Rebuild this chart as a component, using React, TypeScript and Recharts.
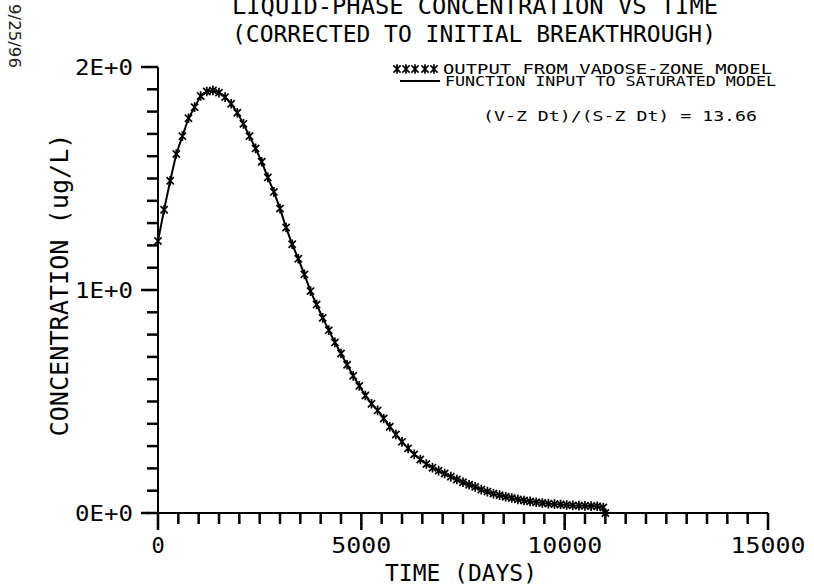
import React from "react";
import { LineChart, Line, XAxis, YAxis } from "recharts";

// Elapsed time since initial breakthrough (days)
const timeDays = [
  0, 150, 300, 450, 600, 750, 900, 1050, 1200, 1350,
  1500, 1650, 1800, 1950, 2100, 2250, 2400, 2550, 2700, 2850,
  3000, 3150, 3300, 3450, 3600, 3750, 3900, 4050, 4200, 4350,
  4500, 4650, 4800, 4950, 5100, 5250, 5400, 5550, 5700, 5850,
  6000, 6150, 6300, 6450, 6600, 6750, 6900, 7050, 7200, 7350,
  7500, 7650, 7800, 7950, 8100, 8250, 8400, 8550, 8700, 8850,
  9000, 9150, 9300, 9450, 9600, 9750, 9900, 10050, 10200, 10350,
  10500, 10650, 10800, 10950, 11000,
];

// Liquid-phase concentration (ug/L)
const concentration = [
  1.22, 1.36, 1.49, 1.61, 1.69, 1.77, 1.82, 1.87, 1.89, 1.895,
  1.885, 1.865, 1.835, 1.795, 1.745, 1.69, 1.635, 1.575, 1.505, 1.44,
  1.365, 1.28, 1.205, 1.14, 1.07, 0.995, 0.935, 0.875, 0.82, 0.765,
  0.715, 0.665, 0.615, 0.57, 0.527, 0.49, 0.46, 0.424, 0.387, 0.352,
  0.319, 0.29, 0.263, 0.24, 0.22, 0.203, 0.19, 0.177, 0.163, 0.15,
  0.138, 0.127, 0.117, 0.105, 0.096, 0.087, 0.08, 0.073, 0.067, 0.061,
  0.056, 0.052, 0.048, 0.045, 0.042, 0.04, 0.038, 0.036, 0.034, 0.033,
  0.032, 0.031, 0.03, 0.025, 0,
];

const xMajorTicks = [0, 5000, 10000, 15000];
const xTickStep = 500;
const yMajorTicks = [0, 1, 2];
const yTickStep = 0.1;

const titleLines = [
  "LIQUID-PHASE CONCENTRATION VS TIME",
  "(CORRECTED TO INITIAL BREAKTHROUGH)",
];
const legendLabels = [
  "OUTPUT FROM VADOSE-ZONE MODEL",
  "FUNCTION INPUT TO SATURATED MODEL",
];
const ratioNote = "(V-Z Dt)/(S-Z Dt) = 13.66";
const xAxisTitle = "TIME (DAYS)";
const yAxisTitle = "CONCENTRATION (ug/L)";
const plotDate = "9/25/96";

const rows = timeDays.map((t, i) => ({ t, c: concentration[i] }));

const xTicks: number[] = [];
for (let k = 0; k <= 30; k++) xTicks.push(k * xTickStep);
const yTicks: number[] = [];
for (let k = 0; k <= 20; k++) yTicks.push(Math.round(k * yTickStep * 10) / 10);

const FONT = "'DejaVu Sans Mono', monospace";
const INK = "#000";
const MINOR = 11; // tick length drawn by the axes
const MAJOR_EXTRA = 6; // extra length on labelled ticks
const TICK_W = 2.5;

const Asterisk = (props: any) => {
  const { cx, cy } = props;
  if (cx == null || cy == null) return null;
  const a = 3.6;
  const h = 4.8;
  return (
    <path
      d={`M${cx - a},${cy - a}L${cx + a},${cy + a}M${cx + a},${cy - a}L${cx - a},${cy + a}M${cx},${cy - h}L${cx},${cy + h}`}
      stroke={INK}
      strokeWidth={1.7}
      fill="none"
    />
  );
};

// x, y arrive at the outer end of the axis tick line
const XTick = (props: any) => {
  const { x, y, payload } = props;
  const v = Number(payload.value);
  if (!xMajorTicks.includes(v)) return <g />;
  const label = String(v);
  return (
    <g>
      <line x1={x} x2={x} y1={y - 1} y2={y + MAJOR_EXTRA} stroke={INK} strokeWidth={TICK_W} />
      <text
        x={x}
        y={y + 29}
        textAnchor="middle"
        fontFamily={FONT}
        fontSize={22}
        fill={INK}
        textLength={label.length > 1 ? label.length * 15 : undefined}
        lengthAdjust="spacingAndGlyphs"
      >
        {label}
      </text>
    </g>
  );
};

const YTick = (props: any) => {
  const { x, y, payload } = props;
  const v = Number(payload.value);
  if (!yMajorTicks.some((m) => Math.abs(m - v) < 1e-6)) return <g />;
  const label = `${Math.round(v)}E+0`;
  return (
    <g>
      <line x1={x + 1} x2={x - MAJOR_EXTRA} y1={y} y2={y} stroke={INK} strokeWidth={TICK_W} />
      <text
        x={x - 14}
        y={y + 8}
        textAnchor="end"
        fontFamily={FONT}
        fontSize={22}
        fill={INK}
        textLength={58}
        lengthAdjust="spacingAndGlyphs"
      >
        {label}
      </text>
    </g>
  );
};

const Overlay = () => (
  <svg
    width={814}
    height={586}
    style={{ position: "absolute", left: 0, top: 0, pointerEvents: "none" }}
  >
    {/* plot date, written sideways */}
    <text
      transform="translate(9,4) rotate(90)"
      fontFamily="'DejaVu Sans', sans-serif"
      fontSize={16}
      fill="#222"
      textLength={64}
      lengthAdjust="spacingAndGlyphs"
    >
      {plotDate}
    </text>

    {/* title */}
    <text x={232} y={14} fontFamily={FONT} fontSize={23} fill={INK} textLength={486} lengthAdjust="spacingAndGlyphs">
      {titleLines[0]}
    </text>
    <text x={232} y={42} fontFamily={FONT} fontSize={23} fill={INK} textLength={484} lengthAdjust="spacingAndGlyphs">
      {titleLines[1]}
    </text>

    {/* legend */}
    {[397, 406, 415, 425, 434].map((x) => (
      <Asterisk key={x} cx={x} cy={69} />
    ))}
    <text x={443} y={74} fontFamily={FONT} fontSize={13.5} fill={INK} textLength={329} lengthAdjust="spacingAndGlyphs">
      {legendLabels[0]}
    </text>
    <line x1={400} x2={440} y1={81} y2={81} stroke={INK} strokeWidth={1.8} />
    <text x={445} y={86} fontFamily={FONT} fontSize={13.5} fill={INK} textLength={331} lengthAdjust="spacingAndGlyphs">
      {legendLabels[1]}
    </text>
    <text x={483} y={121} fontFamily={FONT} fontSize={14} fill={INK} textLength={274} lengthAdjust="spacingAndGlyphs">
      {ratioNote}
    </text>

    {/* axis titles */}
    <text x={461} y={581} textAnchor="middle" fontFamily={FONT} fontSize={23} fill={INK} textLength={152} lengthAdjust="spacingAndGlyphs">
      {xAxisTitle}
    </text>
    <text
      transform="translate(68,285) rotate(-90)"
      textAnchor="middle"
      fontFamily={FONT}
      fontSize={25}
      fill={INK}
      textLength={303}
      lengthAdjust="spacingAndGlyphs"
    >
      {yAxisTitle}
    </text>
  </svg>
);

export default function App() {
  return (
    <div style={{ position: "absolute", left: 0, top: 0, width: 814, height: 586, background: "#fff" }}>
      <LineChart
        width={814}
        height={586}
        data={rows}
        margin={{ top: 67, right: 46, bottom: 33, left: 98 }}
      >
        <XAxis
          dataKey="t"
          type="number"
          domain={[0, 15000]}
          ticks={xTicks}
          interval={0}
          height={40}
          tickSize={MINOR}
          tickMargin={0}
          stroke={INK}
          tickLine={{ stroke: INK, strokeWidth: TICK_W }}
          axisLine={{ stroke: INK, strokeWidth: 2 }}
          tick={<XTick />}
        />
        <YAxis
          type="number"
          domain={[0, 2]}
          ticks={yTicks}
          interval={0}
          width={60}
          tickSize={MINOR}
          tickMargin={0}
          stroke={INK}
          tickLine={{ stroke: INK, strokeWidth: TICK_W }}
          axisLine={{ stroke: INK, strokeWidth: 2 }}
          tick={<YTick />}
        />
        <Line
          type="linear"
          dataKey="c"
          stroke={INK}
          strokeWidth={2}
          dot={false}
          isAnimationActive={false}
        />
        <Line
          type="linear"
          dataKey="c"
          stroke="none"
          dot={<Asterisk />}
          isAnimationActive={false}
        />
      </LineChart>
      <Overlay />
    </div>
  );
}
